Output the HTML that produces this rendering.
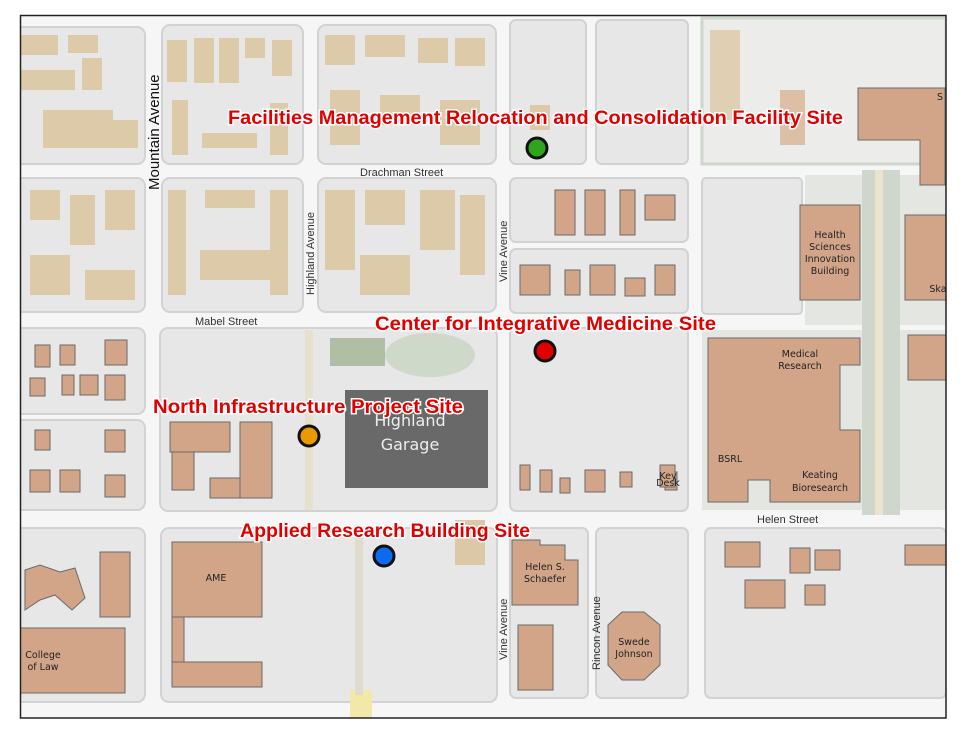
<!DOCTYPE html>
<html><head><meta charset="utf-8"><style>
html,body{margin:0;padding:0;background:#fff;}
svg{display:block;}
.b{fill:#e7e7e7;stroke:#d2d2d2;stroke-width:2;}
.r{fill:#dccaa9;}
.m{fill:#d2a588;stroke:#6a6a6a;stroke-width:1;}
.g{fill:#cfd6cb;}
.st{font-family:"Liberation Sans",sans-serif;font-size:11px;fill:#333;}
.bl{font-family:"DejaVu Sans","Liberation Sans",sans-serif;font-size:9.5px;fill:#222;text-anchor:middle;}
.lab{font-family:"Liberation Sans",sans-serif;font-weight:bold;font-size:19px;fill:#e00000;stroke:#fff;stroke-width:3;paint-order:stroke;}
</style></head><body>
<svg width="968" height="729" viewBox="0 0 968 729" xmlns="http://www.w3.org/2000/svg">
<rect x="0" y="0" width="968" height="729" fill="#fff"/>
<rect x="20" y="15" width="926" height="703" fill="#f6f6f6"/>
<rect class="b" x="14" y="27" width="131" height="137" rx="8"/>
<rect class="b" x="162" y="25" width="141" height="139" rx="8"/>
<rect class="b" x="318" y="25" width="178" height="139" rx="8"/>
<rect class="b" x="510" y="20" width="76" height="144" rx="6"/>
<rect class="b" x="596" y="20" width="92" height="144" rx="6"/>
<rect x="702" y="18" width="244" height="146" fill="#ececea" stroke="#cfd6cb" stroke-width="3"/>
<rect class="b" x="14" y="178" width="131" height="134" rx="8"/>
<rect class="b" x="162" y="178" width="141" height="134" rx="8"/>
<rect class="b" x="318" y="178" width="178" height="134" rx="8"/>
<rect class="b" x="510" y="178" width="178" height="64" rx="6"/>
<rect class="b" x="510" y="249" width="178" height="64" rx="6"/>
<rect class="b" x="702" y="178" width="100" height="136" rx="4"/>
<rect x="805" y="175" width="141" height="150" fill="#e4e6e2"/>
<rect class="b" x="14" y="328" width="131" height="86" rx="8"/>
<rect class="b" x="14" y="420" width="131" height="90" rx="8"/>
<rect class="b" x="160" y="328" width="337" height="183" rx="8" stroke="#cfd6cb" stroke-width="3"/>
<rect class="b" x="510" y="328" width="178" height="183" rx="6" stroke="#cfd6cb" stroke-width="3"/>
<rect x="702" y="330" width="244" height="180" fill="#e4e6e2"/>
<rect class="b" x="14" y="528" width="131" height="174" rx="8" stroke="#cfd6cb" stroke-width="3"/>
<rect class="b" x="161" y="528" width="336" height="174" rx="8" stroke="#cfd6cb" stroke-width="3"/>
<rect class="b" x="510" y="528" width="78" height="170" rx="6"/>
<rect class="b" x="596" y="528" width="92" height="170" rx="6"/>
<rect class="b" x="705" y="528" width="241" height="170" rx="6" stroke="#cfd6cb" stroke-width="3"/>
<rect class="g" x="862" y="170" width="38" height="345"/>
<rect x="875" y="170" width="8" height="345" fill="#ece3cc"/>
<rect x="350" y="690" width="22" height="30" fill="#f2e9a8"/>
<rect x="305" y="330" width="8" height="180" fill="#e6e0cc"/>
<rect x="355" y="530" width="8" height="165" fill="#e0dccb"/>
<ellipse cx="430" cy="355" rx="45" ry="22" fill="#cfd9c9"/>
<rect x="330" y="338" width="55" height="28" fill="#8aa37a" opacity=".6"/>
<g class="r">
<rect x="20" y="35" width="38" height="20"/><rect x="68" y="35" width="30" height="18"/><rect x="20" y="70" width="55" height="20"/><rect x="82" y="58" width="20" height="32"/>
<rect x="43" y="110" width="70" height="38"/><rect x="113" y="120" width="25" height="28"/>
<rect x="167" y="40" width="20" height="42"/><rect x="194" y="38" width="20" height="45"/><rect x="219" y="38" width="20" height="45"/><rect x="245" y="38" width="20" height="20"/><rect x="272" y="40" width="20" height="36"/>
<rect x="172" y="100" width="16" height="55"/><rect x="202" y="133" width="55" height="15"/><rect x="270" y="103" width="18" height="52"/>
<rect x="325" y="35" width="30" height="30"/><rect x="365" y="35" width="40" height="22"/><rect x="418" y="38" width="30" height="25"/><rect x="455" y="38" width="30" height="28"/>
<rect x="330" y="90" width="30" height="55"/><rect x="380" y="95" width="40" height="30"/><rect x="440" y="100" width="40" height="45"/>
<rect x="30" y="190" width="30" height="30"/><rect x="70" y="195" width="25" height="50"/><rect x="105" y="190" width="30" height="40"/><rect x="30" y="255" width="40" height="40"/><rect x="85" y="270" width="50" height="30"/>
<rect x="168" y="190" width="18" height="105"/><rect x="205" y="190" width="50" height="18"/><rect x="270" y="190" width="18" height="105"/><rect x="200" y="250" width="70" height="30"/>
<rect x="325" y="190" width="30" height="80"/><rect x="365" y="190" width="40" height="35"/><rect x="420" y="190" width="35" height="60"/><rect x="460" y="195" width="25" height="80"/><rect x="360" y="255" width="50" height="40"/>
<rect x="530" y="105" width="20" height="25"/>
<rect x="710" y="30" width="30" height="90" fill="#dfcfb3"/>
<rect x="780" y="90" width="25" height="55" fill="#dcbfa4"/>
<rect x="455" y="520" width="30" height="45" fill="#dcc7a7"/>
</g>
<g class="m">
<rect x="555" y="190" width="20" height="45"/><rect x="585" y="190" width="20" height="45"/><rect x="620" y="190" width="15" height="45"/><rect x="645" y="195" width="30" height="25"/>
<rect x="520" y="265" width="30" height="30"/><rect x="565" y="270" width="15" height="25"/><rect x="590" y="265" width="25" height="30"/><rect x="625" y="278" width="20" height="18"/><rect x="655" y="265" width="20" height="30"/>
<path d="M858 88 L945 88 L945 185 L920 185 L920 140 L858 140 Z"/>
<rect x="800" y="205" width="60" height="95"/>
<path d="M905 215 L946 215 L946 300 L905 300 Z"/>
<rect x="908" y="335" width="38" height="45"/>
<path d="M708 338 L860 338 L860 365 L840 365 L840 430 L860 430 L860 502 L770 502 L770 480 L748 480 L748 502 L708 502 Z"/>
<rect x="35" y="345" width="15" height="22"/><rect x="60" y="345" width="15" height="20"/><rect x="105" y="340" width="22" height="25"/><rect x="30" y="378" width="15" height="18"/><rect x="62" y="375" width="12" height="20"/><rect x="80" y="375" width="18" height="20"/><rect x="105" y="375" width="20" height="25"/>
<rect x="35" y="430" width="15" height="20"/><rect x="105" y="430" width="20" height="22"/><rect x="30" y="470" width="20" height="22"/><rect x="60" y="470" width="20" height="22"/><rect x="105" y="475" width="20" height="22"/>
<rect x="170" y="422" width="60" height="30"/><rect x="172" y="452" width="22" height="38"/><rect x="210" y="478" width="30" height="20"/><rect x="240" y="422" width="32" height="76"/>
<rect x="520" y="465" width="10" height="25"/><rect x="540" y="470" width="12" height="22"/><rect x="560" y="478" width="10" height="15"/><rect x="585" y="470" width="20" height="22"/><rect x="620" y="472" width="12" height="15"/><rect x="665" y="472" width="12" height="18"/>
<path d="M25 570 L40 565 L60 572 L75 568 L85 598 L72 610 L55 595 L40 600 L25 610 Z"/>
<rect x="20" y="628" width="105" height="65"/><rect x="100" y="552" width="30" height="65"/>
<rect x="172" y="542" width="90" height="75"/><rect x="172" y="617" width="12" height="45"/><rect x="172" y="662" width="90" height="25"/>
<path d="M512 540 L540 540 L540 545 L565 545 L565 560 L578 560 L578 605 L512 605 Z"/>
<rect x="518" y="625" width="35" height="65"/>
<path d="M622 612 L644 612 L660 625 L660 665 L644 680 L622 680 L608 665 L608 625 Z"/>
<rect x="725" y="542" width="35" height="25"/><rect x="790" y="548" width="20" height="25"/><rect x="815" y="550" width="25" height="20"/><rect x="745" y="580" width="40" height="28"/><rect x="805" y="585" width="20" height="20"/><rect x="905" y="545" width="41" height="20"/>
<rect x="660" y="465" width="15" height="22"/>
</g>
<rect x="345" y="390" width="143" height="98" fill="#696969"/>
<text x="410" y="426" font-family="DejaVu Sans,sans-serif" font-size="16" fill="#eee" text-anchor="middle">Highland</text>
<text x="410" y="450" font-family="DejaVu Sans,sans-serif" font-size="16" fill="#eee" text-anchor="middle">Garage</text>
<text class="bl" x="830" y="238">Health</text><text class="bl" x="830" y="250">Sciences</text><text class="bl" x="830" y="262">Innovation</text><text class="bl" x="830" y="274">Building</text>
<text class="bl" x="800" y="357">Medical</text><text class="bl" x="800" y="369">Research</text>
<text class="bl" x="730" y="462">BSRL</text>
<text class="bl" x="820" y="478">Keating</text><text class="bl" x="820" y="491">Bioresearch</text>
<text class="bl" x="216" y="581">AME</text>
<text class="bl" x="43" y="658">College</text><text class="bl" x="43" y="670">of Law</text>
<text class="bl" x="545" y="570">Helen S.</text><text class="bl" x="545" y="582">Schaefer</text>
<text class="bl" x="634" y="645">Swede</text><text class="bl" x="634" y="657">Johnson</text>
<text class="bl" x="940" y="100">S</text><text class="bl" x="938" y="292">Ska</text>
<text class="bl" x="668" y="479" font-size="6">Key</text><text class="bl" x="668" y="486" font-size="6">Desk</text>
<text class="st" x="360" y="176">Drachman Street</text>
<text class="st" x="195" y="325">Mabel Street</text>
<text class="st" x="757" y="523">Helen Street</text>
<text font-family="Liberation Sans,sans-serif" font-size="15" fill="#111" transform="translate(159,190) rotate(-90)">Mountain Avenue</text>
<text class="st" transform="translate(314,295) rotate(-90)">Highland Avenue</text>
<text class="st" transform="translate(507,282) rotate(-90)">Vine Avenue</text>
<text class="st" transform="translate(507,660) rotate(-90)">Vine Avenue</text>
<text class="st" transform="translate(600,670) rotate(-90)">Rincon Avenue</text>
<text class="lab" x="228" y="124" textLength="615" lengthAdjust="spacingAndGlyphs">Facilities Management Relocation and Consolidation Facility Site</text>
<text class="lab" x="375" y="330" textLength="341" lengthAdjust="spacingAndGlyphs">Center for Integrative Medicine Site</text>
<text class="lab" x="153" y="413" textLength="310" lengthAdjust="spacingAndGlyphs">North Infrastructure Project Site</text>
<text class="lab" x="240" y="537" textLength="290" lengthAdjust="spacingAndGlyphs">Applied Research Building Site</text>
<circle cx="537" cy="148" r="10" fill="#2fa41d" stroke="#111" stroke-width="3"/>
<circle cx="545" cy="351" r="10" fill="#e00000" stroke="#111" stroke-width="3"/>
<circle cx="309" cy="436" r="10" fill="#e89a00" stroke="#111" stroke-width="3"/>
<circle cx="384" cy="556" r="10" fill="#0a6cf0" stroke="#111" stroke-width="3"/>
<rect x="0" y="718" width="968" height="11" fill="#fff"/>
<rect x="946" y="0" width="22" height="729" fill="#fff"/>
<rect x="0" y="0" width="20" height="729" fill="#fff"/>
<rect x="0" y="0" width="968" height="15" fill="#fff"/>
<rect x="20.5" y="15.5" width="925.5" height="702.5" fill="none" stroke="#222" stroke-width="1.5"/>
</svg>
</body></html>
